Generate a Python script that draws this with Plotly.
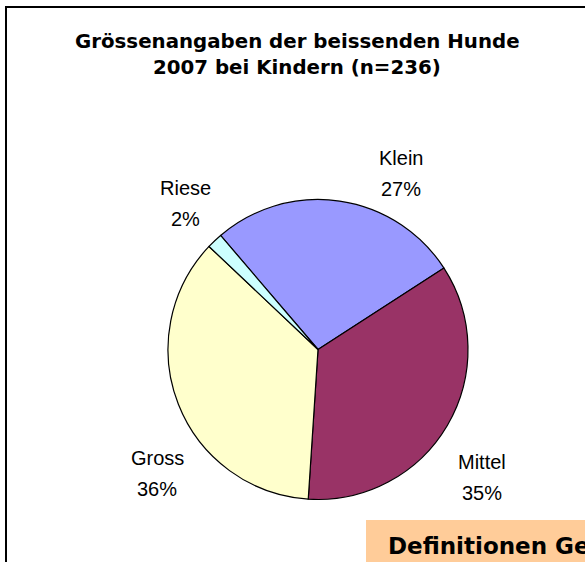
import plotly.graph_objects as go

# ---- data ----
categories = ["Klein", "Mittel", "Gross", "Riese"]
counts = [64, 83, 85, 4]          # n = 236
colors = ["#9999FF", "#993366", "#FFFFCC", "#CCFFFF"]
title_lines = ["Grössenangaben der beissenden Hunde", "2007 bei Kindern (n=236)"]
box_text = "Definitionen Gewicht"

# ---- layout constants (pixels) ----
W, H = 585, 562
cx, cy, r = 318, 349.5, 150
label_pos = {  # (x, y of first line centre)
    "Klein": (401, 157),
    "Mittel": (482, 461),
    "Gross": (157, 457),
    "Riese": (185, 187),
}
line_gap = 31


def px(x):
    return x / W


def py(y):
    return 1 - y / H


total = sum(counts)
fig = go.Figure()
fig.add_trace(go.Pie(
    labels=categories, values=counts, sort=False, direction="clockwise",
    rotation=-40.5,
    marker=dict(colors=colors, line=dict(color="black", width=1.2)),
    textinfo="none", hoverinfo="label+percent", showlegend=False,
    domain=dict(x=[px(cx - r), px(cx + r)], y=[py(cy + r), py(cy - r)]),
))

annotations = []
lab_font = dict(family="Liberation Sans, Arial, sans-serif", size=20, color="black")
for cat, v in zip(categories, counts):
    x, y = label_pos[cat]
    pct = round(100 * v / total)
    for i, t in enumerate([cat, f"{pct}%"]):
        annotations.append(dict(
            x=px(x), y=py(y + i * line_gap + 1), xref="paper", yref="paper",
            text=t, showarrow=False, xanchor="center", yanchor="middle",
            font=lab_font))

title_font = dict(family="DejaVu Sans, sans-serif", size=19.8, color="black", weight="bold")
for i, t in enumerate(title_lines):
    annotations.append(dict(
        x=px(297), y=py(41 + i * 26), xref="paper", yref="paper",
        text=t, showarrow=False, xanchor="center", yanchor="middle",
        font=title_font))

annotations.append(dict(
    x=px(386), y=py(546), xref="paper", yref="paper",
    text=box_text, showarrow=False, xanchor="left", yanchor="middle",
    font=dict(family="DejaVu Sans, sans-serif", size=23, color="black", weight="bold")))

shapes = [
    dict(type="rect", xref="paper", yref="paper",
         x0=px(6), x1=px(W + 20), y0=py(H + 20), y1=py(7),
         line=dict(color="black", width=2), fillcolor="rgba(0,0,0,0)", layer="below"),
    dict(type="rect", xref="paper", yref="paper",
         x0=px(366), x1=px(W + 20), y0=py(H + 20), y1=py(520),
         line=dict(width=0), fillcolor="#FFCC99", layer="below"),
]

fig.update_layout(
    width=W, height=H, margin=dict(l=0, r=0, t=0, b=0),
    paper_bgcolor="white", plot_bgcolor="white",
    annotations=annotations, shapes=shapes,
)

fig.write_html(
    "out.html",
    config={"displayModeBar": False},
    post_script="document.body.style.margin='0';document.body.style.overflow='hidden';",
)
